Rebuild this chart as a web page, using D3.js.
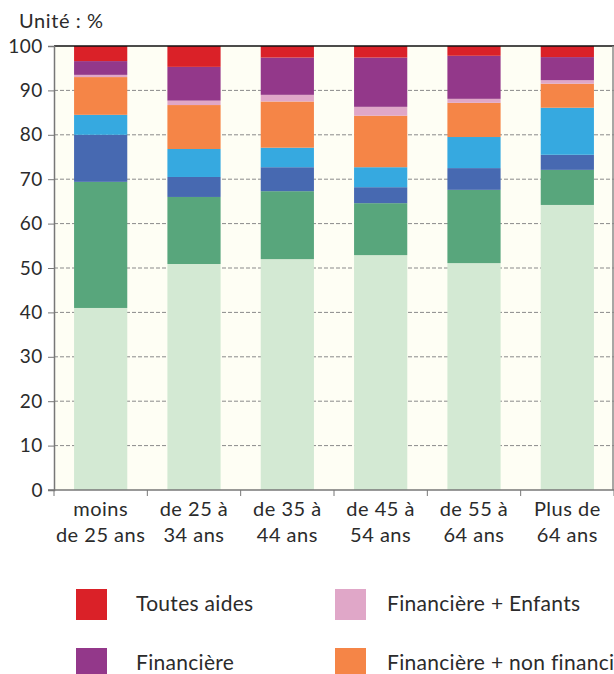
<!DOCTYPE html>
<html><head><meta charset="utf-8">
<script src="https://cdn.jsdelivr.net/npm/d3@7"></script>
<style>
html,body{margin:0;padding:0;background:#fff;}
svg{display:block;font-family:Lato,"Noto Sans",sans-serif;}
</style></head>
<body>
<svg id="c" width="614" height="674"></svg>
<script>
const categories = [["moins","de 25 ans"],["de 25 à","34 ans"],["de 35 à","44 ans"],["de 45 à","54 ans"],["de 55 à","64 ans"],["Plus de","64 ans"]];
// series from bottom to top, values in %
const seriesNames = ["Aucune aide","Non financière","Enfants","Non financière + Enfants","Financière + non financière","Financière + Enfants","Financière","Toutes aides"];
const seriesColors = ["#d3e9d3","#58a67c","#4769b1","#36a9e0","#f58547","#e0a7c8","#93388a","#da2128"];
const aucune      = [41.0, 50.9, 52.0, 52.9, 51.1, 64.2];
const nonFin      = [28.4, 15.1, 15.3, 11.7, 16.5,  7.9];
const enfants     = [10.6,  4.5,  5.4,  3.6,  4.9,  3.4];
const nonFinEnf   = [ 4.5,  6.3,  4.4,  4.5,  7.0, 10.6];
const finNonFin   = [ 8.5,  9.9, 10.4, 11.6,  7.7,  5.4];
const finEnf      = [ 0.5,  1.0,  1.5,  2.0,  0.9,  0.8];
const financiere  = [ 3.1,  7.6,  8.4, 11.1,  9.7,  5.2];
const toutes      = [ 3.4,  4.7,  2.6,  2.6,  2.2,  2.5];
const seriesValues = [aucune, nonFin, enfants, nonFinEnf, finNonFin, finEnf, financiere, toutes];
const yTicks = [0,10,20,30,40,50,60,70,80,90,100];
const legendOrder = [7,5,6,4,3,2,1,0];
const unitLabel = "Unité : %";

const svg = d3.select("#c");
const mLeft = 54, mRight = 614, mTop = 46, mBottom = 490;
const x = d3.scaleBand().domain(d3.range(categories.length)).range([mLeft, mRight]).paddingInner(0.43).paddingOuter(0.215);
const y = d3.scaleLinear().domain([0,100]).range([mBottom, mTop]);
const textCol = "#2b2b2b";

// background
svg.append("rect").attr("x", mLeft).attr("y", mTop).attr("width", mRight-mLeft).attr("height", mBottom-mTop).attr("fill", "#fefef4");

// grid
svg.append("g").selectAll("line").data(yTicks.filter(t => t>0 && t<100)).join("line")
  .attr("x1", mLeft).attr("x2", mRight).attr("y1", d => y(d)).attr("y2", d => y(d))
  .attr("stroke", "#8a8a8a").attr("stroke-width", 1).attr("stroke-dasharray", "4,2");

// stacked data
const rows = categories.map((c,i) => { const o = {i}; seriesValues.forEach((s,k) => o[k] = s[i]); return o; });
const stack = d3.stack().keys(d3.range(seriesValues.length))(rows);
svg.append("g").selectAll("g").data(stack).join("g").attr("fill", (d,k) => seriesColors[k])
  .selectAll("rect").data(d => d).join("rect")
  .attr("x", d => x(d.data.i)).attr("width", x.bandwidth())
  .attr("y", d => y(Math.min(d[1],100))).attr("height", d => y(d[0]) - y(Math.min(d[1],100)));

// frame lines
svg.append("line").attr("x1", mLeft).attr("x2", mRight).attr("y1", mTop).attr("y2", mTop).attr("stroke", "#111").attr("stroke-width", 1.5);
svg.append("line").attr("x1", mRight-1).attr("x2", mRight-1).attr("y1", mTop).attr("y2", mBottom).attr("stroke", "#8a8a8a").attr("stroke-width", 1.5);

// y axis
const ya = svg.append("g").attr("transform", `translate(${mLeft},0)`)
  .call(d3.axisLeft(y).tickValues(yTicks).tickSize(6).tickPadding(5));
ya.select(".domain").attr("stroke", "#777").attr("stroke-width", 1.5);
ya.selectAll(".tick line").attr("stroke", "#777");
ya.selectAll(".tick text").attr("font-size", 19).attr("letter-spacing", 0.6).attr("fill", textCol).attr("font-family", "Lato");

// x axis
const step = x.step();
const bounds = d3.range(categories.length + 1).map(i => mLeft + i*step);
svg.append("line").attr("x1", mLeft-6).attr("x2", mRight).attr("y1", mBottom).attr("y2", mBottom).attr("stroke", "#777").attr("stroke-width", 1.5);
svg.append("g").selectAll("line").data(bounds).join("line")
  .attr("x1", d => d).attr("x2", d => d).attr("y1", mBottom).attr("y2", mBottom+6).attr("stroke", "#777");
const xl = svg.append("g").selectAll("text").data(categories).join("text")
  .attr("x", (d,i) => x(i) + x.bandwidth()/2).attr("y", mBottom + 26)
  .attr("text-anchor", "middle").attr("font-size", 20).attr("letter-spacing", 0.5).attr("fill", textCol);
xl.append("tspan").attr("x", (d,i) => x(i) + x.bandwidth()/2).text(d => d[0]);
xl.append("tspan").attr("x", (d,i) => x(i) + x.bandwidth()/2).attr("dy", 26).text(d => d[1]);

// unit label
svg.append("text").attr("x", 19).attr("y", 28).attr("font-size", 20).attr("letter-spacing", 0.6).attr("fill", textCol).text(unitLabel);

// legend
const colX = [76, 335], textX = [136, 387], rowY0 = 589, rowStep = 59;
const lg = svg.append("g").selectAll("g").data(legendOrder).join("g")
  .attr("transform", (k,j) => `translate(${colX[j%2]},${rowY0 + Math.floor(j/2)*rowStep})`);
lg.append("rect").attr("width", 31).attr("height", 31).attr("fill", k => seriesColors[k]);
lg.append("text").attr("x", (k,j) => textX[j%2] - colX[j%2]).attr("y", 22).attr("font-size", 21).attr("letter-spacing", 0.3).attr("fill", textCol).text(k => seriesNames[k]);
</script>
</body></html>
